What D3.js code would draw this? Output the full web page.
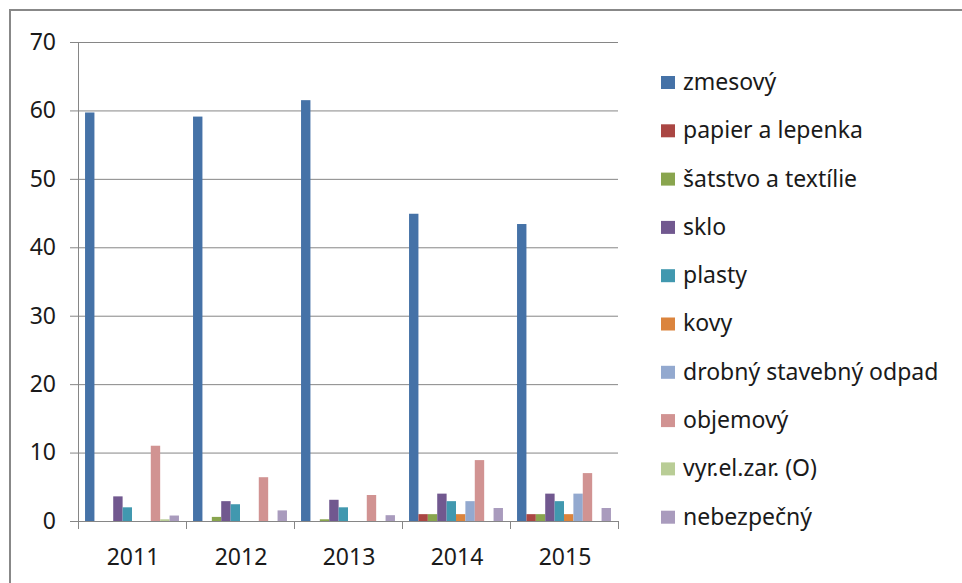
<!DOCTYPE html>
<html>
<head>
<meta charset="utf-8">
<script src="https://cdn.jsdelivr.net/npm/d3@7"></script>
<style>
  body { margin: 0; background: #fff; }
  text { font-family: "Noto Sans", sans-serif; fill: #1a1a1a; }
</style>
</head>
<body>
<div id="chart"></div>
<script>
// Data
const years = ['2011', '2012', '2013', '2014', '2015']
const seriesNames = ['zmesový', 'papier a lepenka', 'šatstvo a textílie', 'sklo', 'plasty',
  'kovy', 'drobný stavebný odpad', 'objemový', 'vyr.el.zar. (O)', 'nebezpečný']
const zmesovy = [59.7, 59.1, 61.5, 44.9, 43.4]
const papier = [0, 0, 0, 1.0, 1.0]
const satstvo = [0, 0.6, 0.25, 1.0, 1.0]
const sklo = [3.6, 2.9, 3.1, 4.0, 4.0]
const plasty = [2.0, 2.45, 2.0, 2.9, 2.9]
const kovy = [0, 0, 0, 1.0, 1.0]
const drobny = [0, 0, 0, 2.9, 4.0]
const objemovy = [11.0, 6.4, 3.8, 8.9, 7.0]
const vyrelzar = [0.25, 0, 0, 0, 0]
const nebezpecny = [0.8, 1.55, 0.85, 1.9, 1.9]
const yTicks = [0, 10, 20, 30, 40, 50, 60, 70]
const colors = ['#4572A7', '#AA4643', '#89A54E', '#71588F', '#4198AF',
  '#DB843D', '#93A9CF', '#D19392', '#B9CD96', '#A99BBD']

const allSeries = [zmesovy, papier, satstvo, sklo, plasty, kovy, drobny, objemovy, vyrelzar, nebezpecny]

const dimension = {
  width: 962,
  height: 583,
  margin: { top: 42, left: 78, right: 344, bottom: 62 }
}
const ctrW = dimension.width - dimension.margin.left - dimension.margin.right
const ctrH = dimension.height - dimension.margin.top - dimension.margin.bottom
const grid = '#868686'

const svg = d3.select('#chart')
  .append('svg')
  .attr('width', dimension.width)
  .attr('height', dimension.height)

// outer frame
svg.append('rect')
  .attr('x', 10).attr('y', 10)
  .attr('width', 970).attr('height', 600)
  .attr('fill', 'none')
  .attr('stroke', '#888')
  .attr('stroke-width', 2)

const ctr = svg.append('g')
  .attr('transform', `translate(${dimension.margin.left}, ${dimension.margin.top})`)

// scales
const x0 = d3.scaleBand().domain(years).range([0, ctrW]).padding(0)
const gap = x0.bandwidth() * 1.5 / 11.5 / 2
const x1 = d3.scaleBand().domain(d3.range(seriesNames.length))
  .range([gap, x0.bandwidth() - gap]).padding(0)
const y = d3.scaleLinear().domain([0, 70]).range([ctrH, 0])

// gridlines
const yGrid = ctr.append('g')
  .call(d3.axisLeft(y).tickValues(yTicks).tickSize(-ctrW).tickFormat(''))
yGrid.select('.domain').remove()
yGrid.selectAll('line').attr('stroke', grid)

// y axis
const yAxisGroup = ctr.append('g')
  .call(d3.axisLeft(y).tickValues(yTicks).tickSize(8).tickSizeOuter(0).tickPadding(14))
yAxisGroup.select('.domain').attr('stroke', grid)
yAxisGroup.selectAll('line').attr('stroke', grid)
yAxisGroup.selectAll('text')
  .attr('font-size', 23)
  .attr('dy', '0.32em')
  .style('font-family', '"Noto Sans", sans-serif')
  .attr('fill', '#1a1a1a')

// bars
ctr.append('g')
  .selectAll('g')
  .data(allSeries)
  .join('g')
  .attr('fill', (d, i) => colors[i])
  .each(function (vals, si) {
    d3.select(this).selectAll('rect')
      .data(vals)
      .join('rect')
      .attr('x', (d, i) => x0(years[i]) + x1(si))
      .attr('width', x1.bandwidth())
      .attr('y', d => y(d))
      .attr('height', d => ctrH - y(d))
  })

// x axis
ctr.append('line')
  .attr('x1', 0).attr('x2', ctrW)
  .attr('y1', ctrH + 0.5).attr('y2', ctrH + 0.5)
  .attr('stroke', grid)
ctr.append('g')
  .selectAll('line')
  .data(d3.range(years.length + 1))
  .join('line')
  .attr('x1', i => i * x0.step() + 0.5)
  .attr('x2', i => i * x0.step() + 0.5)
  .attr('y1', ctrH)
  .attr('y2', ctrH + 8)
  .attr('stroke', grid)
ctr.append('g')
  .selectAll('text')
  .data(years)
  .join('text')
  .attr('x', d => x0(d) + x0.bandwidth() / 2 + 1)
  .attr('y', ctrH + 44)
  .attr('text-anchor', 'middle')
  .attr('font-size', 23)
  .text(d => d)

// legend
const legend = svg.append('g')
  .attr('transform', 'translate(661, 83)')
const item = legend.selectAll('g')
  .data(seriesNames)
  .join('g')
  .attr('transform', (d, i) => `translate(0, ${i * 48.3})`)
item.append('rect')
  .attr('x', 0).attr('y', -7)
  .attr('width', 14).attr('height', 13)
  .attr('fill', (d, i) => colors[i])
item.append('text')
  .attr('x', 22)
  .attr('y', 0)
  .attr('dy', '0.3em')
  .attr('font-size', 23)
  .text(d => d)
</script>
</body>
</html>
